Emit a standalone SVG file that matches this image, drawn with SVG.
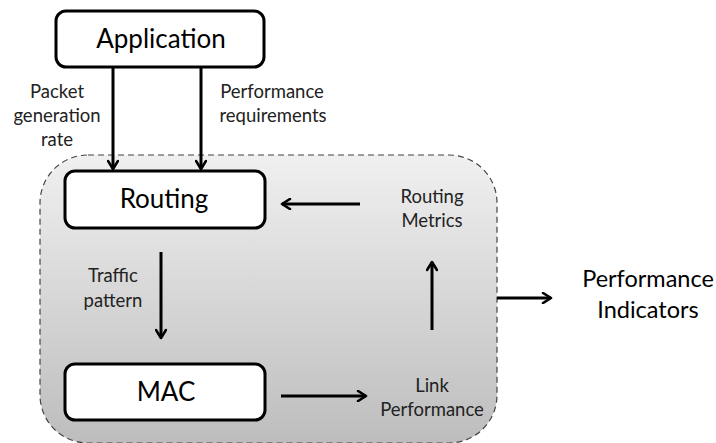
<svg xmlns="http://www.w3.org/2000/svg" width="716" height="443" viewBox="0 0 716 443">
  <defs>
    <linearGradient id="panelFill" x1="0" y1="0" x2="0" y2="1">
      <stop offset="0" stop-color="#f0f0f0"/>
      <stop offset="1" stop-color="#bdbdbd"/>
    </linearGradient>
    <marker id="head" viewBox="0 0 12 12" refX="10" refY="6" markerWidth="12" markerHeight="12" markerUnits="userSpaceOnUse" orient="auto">
      <path d="M2,1 L10,6 L2,11" fill="none" stroke="#000" stroke-width="2.6" stroke-linecap="round" stroke-linejoin="round"/>
    </marker>
    <style>
      .box { fill: #fff; stroke: #000; stroke-width: 3; }
      .big { font-family: Lato, "Noto Sans", sans-serif; font-size: 26px; fill: #000; text-anchor: middle; }
      .lbl { font-family: Lato, "Noto Sans", sans-serif; font-size: 18.5px; fill: #222; text-anchor: middle; }
      .out { font-family: Lato, "Noto Sans", sans-serif; font-size: 23.5px; fill: #000; text-anchor: middle; }
      .conn { stroke: #000; stroke-width: 3; fill: none; marker-end: url(#head); }
    </style>
  </defs>

  <!-- shared panel holding Routing and MAC; bottom edge runs along the lower border -->
  <rect id="panel" x="40" y="155" width="457" height="288" rx="48" fill="url(#panelFill)" stroke="#444" stroke-width="1.2" stroke-dasharray="6,4"/>

  <g id="application">
    <rect class="box" x="56" y="11" width="208" height="56" rx="10"/>
    <text class="big" x="161" y="48">Application</text>
  </g>

  <g id="routing">
    <rect class="box" x="65" y="171" width="200" height="57" rx="10"/>
    <text class="big" x="164" y="208">Routing</text>
  </g>

  <g id="mac">
    <rect class="box" x="65" y="364" width="200" height="56" rx="10"/>
    <text class="big" x="166" y="401">MAC</text>
  </g>

  <g id="connectors">
    <line class="conn" x1="113" y1="68" x2="113" y2="169"/>
    <line class="conn" x1="201" y1="68" x2="201" y2="169"/>
    <line class="conn" x1="360" y1="204" x2="282" y2="204"/>
    <line class="conn" x1="161" y1="252" x2="161" y2="338"/>
    <line class="conn" x1="281" y1="396" x2="366" y2="396"/>
    <line class="conn" x1="432" y1="330" x2="432" y2="262"/>
    <line class="conn" x1="497" y1="298" x2="551" y2="298"/>
  </g>

  <g id="labels">
    <text class="lbl" x="57" y="98">Packet</text>
    <text class="lbl" x="57" y="122">generation</text>
    <text class="lbl" x="57" y="146">rate</text>
    <text class="lbl" x="272" y="98">Performance</text>
    <text class="lbl" x="273" y="122">requirements</text>
    <text class="lbl" x="432" y="203">Routing</text>
    <text class="lbl" x="432" y="227">Metrics</text>
    <text class="lbl" x="113" y="282">Traffic</text>
    <text class="lbl" x="113" y="307">pattern</text>
    <text class="lbl" x="432" y="392">Link</text>
    <text class="lbl" x="432" y="416">Performance</text>
  </g>

  <g id="indicators">
    <text class="out" x="648" y="287">Performance</text>
    <text class="out" x="648" y="318">Indicators</text>
  </g>
</svg>
